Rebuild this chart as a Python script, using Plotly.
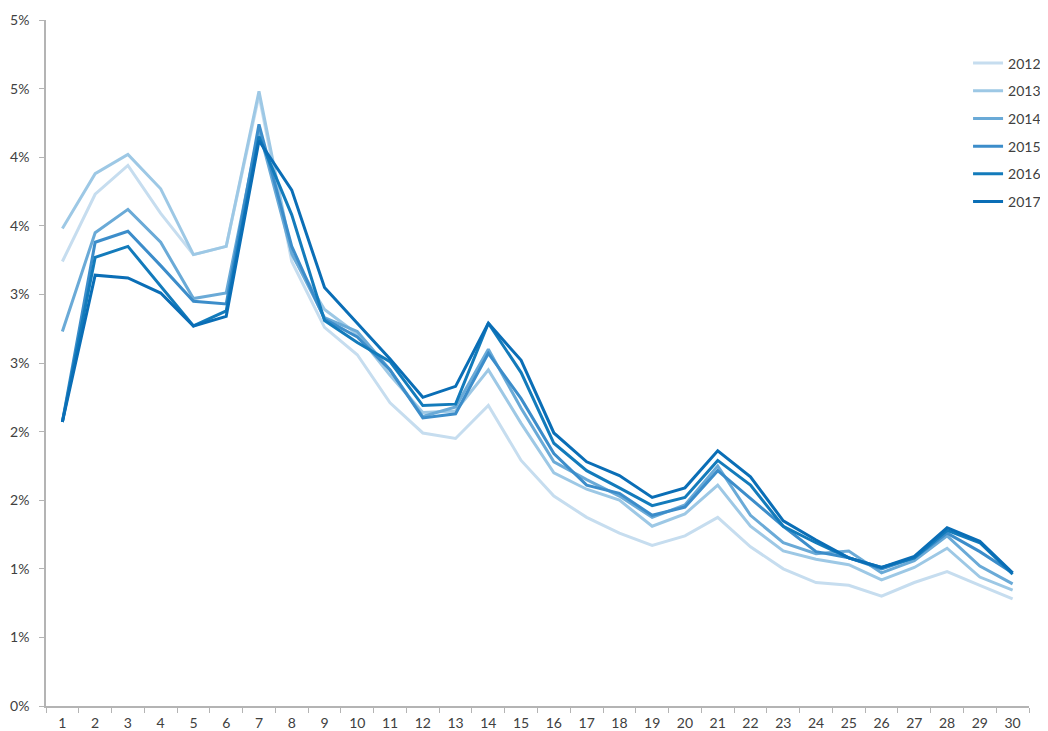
import plotly.graph_objects as go

days = [str(i) for i in range(1, 31)]

y2012 = [3.24, 3.73, 3.94, 3.59, 3.29, 3.35, 4.45, 3.24, 2.76, 2.56, 2.21, 1.99, 1.95, 2.19, 1.79,
         1.53, 1.375, 1.26, 1.17, 1.24, 1.375, 1.16, 1.00, 0.90, 0.88, 0.80, 0.90, 0.98, 0.88, 0.78]
y2013 = [3.48, 3.88, 4.02, 3.77, 3.29, 3.35, 4.48, 3.29, 2.89, 2.71, 2.41, 2.14, 2.15, 2.45, 2.06,
         1.70, 1.58, 1.50, 1.31, 1.40, 1.61, 1.31, 1.13, 1.07, 1.03, 0.92, 1.01, 1.15, 0.94, 0.845]
y2014 = [2.73, 3.45, 3.62, 3.38, 2.97, 3.01, 4.20, 3.30, 2.83, 2.73, 2.45, 2.11, 2.18, 2.60, 2.17,
         1.78, 1.65, 1.53, 1.375, 1.465, 1.75, 1.39, 1.19, 1.11, 1.13, 0.97, 1.06, 1.24, 1.02, 0.89]
y2015 = [2.07, 3.38, 3.46, 3.21, 2.95, 2.93, 4.24, 3.35, 2.82, 2.69, 2.45, 2.10, 2.13, 2.57, 2.24,
         1.84, 1.61, 1.55, 1.39, 1.45, 1.715, 1.51, 1.31, 1.125, 1.08, 1.00, 1.08, 1.26, 1.125, 0.97]
y2016 = [2.07, 3.27, 3.35, 3.06, 2.77, 2.88, 4.15, 3.58, 2.81, 2.65, 2.51, 2.19, 2.20, 2.79, 2.43,
         1.915, 1.715, 1.59, 1.46, 1.52, 1.79, 1.61, 1.31, 1.19, 1.08, 1.01, 1.08, 1.28, 1.19, 0.96]
y2017 = [2.07, 3.14, 3.12, 3.01, 2.77, 2.84, 4.12, 3.76, 3.05, 2.79, 2.53, 2.25, 2.33, 2.79, 2.52,
         1.99, 1.78, 1.68, 1.52, 1.59, 1.86, 1.67, 1.35, 1.21, 1.08, 1.01, 1.09, 1.30, 1.20, 0.97]

series_names = ["2012", "2013", "2014", "2015", "2016", "2017"]
series_values = [y2012, y2013, y2014, y2015, y2016, y2017]
colors = ["#c6ddef", "#9dc8e5", "#6aaad7", "#3c8dca", "#137bbb", "#0a6eb6"]

y_tick_vals = [0, 0.5, 1, 1.5, 2, 2.5, 3, 3.5, 4, 4.5, 5]
y_tick_text = ["0%", "1%", "1%", "2%", "2%", "3%", "3%", "4%", "4%", "5%", "5%"]

fig = go.Figure()
for name, vals, col in zip(series_names, series_values, colors):
    fig.add_trace(go.Scatter(
        x=days, y=vals, name=name, mode="lines",
        line=dict(color=col, width=3),
        legendgroup=name,
    ))

axis_col = "#b4b4b4"
fig.update_layout(
    width=1048, height=723,
    margin=dict(l=38, r=27, t=12, b=25, autoexpand=False),
    paper_bgcolor="white", plot_bgcolor="white",
    font=dict(family="Lato, 'Open Sans', sans-serif", size=14, color="#404040"),
    showlegend=True,
    legend=dict(
        xref="paper", yref="paper",
        x=0.938, y=0.960, xanchor="left", yanchor="top",
        bgcolor="rgba(0,0,0,0)", tracegroupgap=6.5,
        font=dict(size=14, color="#404040"),
    ),
    xaxis=dict(
        type="category", tickson="boundaries", range=[-0.5, len(days) - 0.5],
        showline=True, linecolor=axis_col, linewidth=1.5,
        ticks="outside", ticklen=5, tickcolor=axis_col, tickwidth=1,
        showgrid=False, zeroline=False, ticklabelstandoff=3,
    ),
    yaxis=dict(
        range=[0, 5], tickvals=y_tick_vals, ticktext=y_tick_text,
        showline=True, linecolor=axis_col, linewidth=1.5,
        ticks="outside", ticklen=5, tickcolor=axis_col, tickwidth=1,
        showgrid=False, zeroline=False, ticklabelstandoff=7,
    ),
)

fig.write_html("out.html")
